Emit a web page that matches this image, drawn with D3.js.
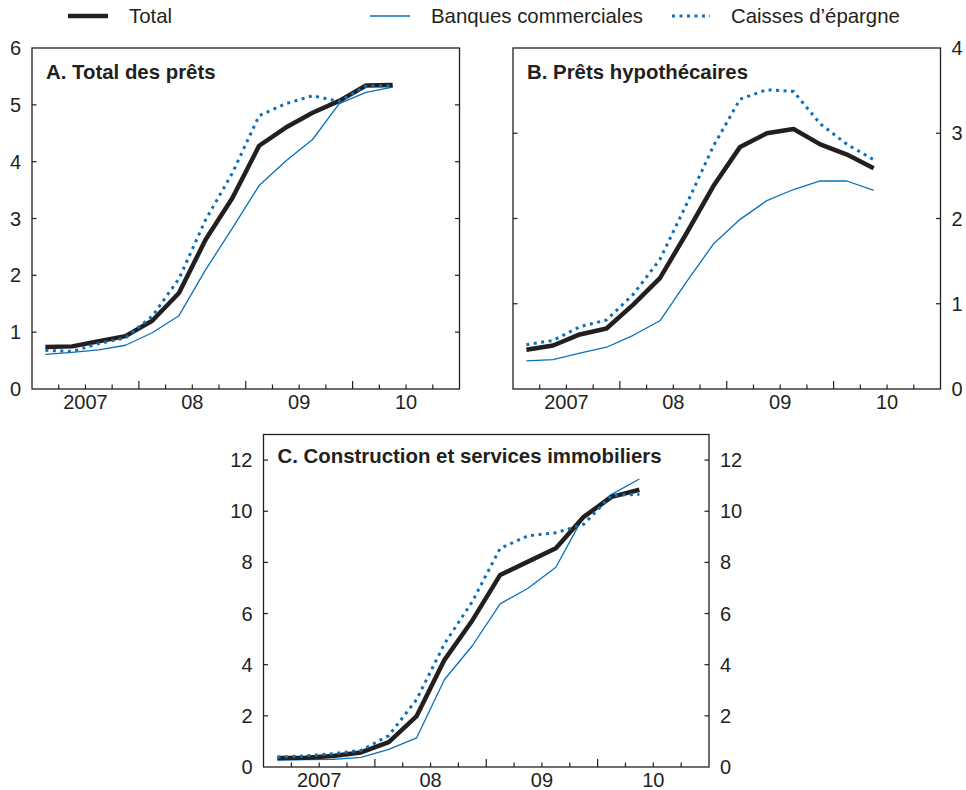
<html lang="fr">

<head>
    <meta charset="UTF-8">
    <script type="text/javascript" src="https://cdn.jsdelivr.net/npm/d3@7"></script>
    <title>Prêts</title>
    <style>
        body { margin: 0; background: #fff; }
        text { font-family: "Liberation Sans", Arial, sans-serif; fill: #231f20; }
    </style>
</head>

<body>
    <script type="text/javascript">

        // quarters, plotted at mid-quarter
        var quarters = ["2007T1", "2007T2", "2007T3", "2007T4", "2008T1", "2008T2", "2008T3",
            "2008T4", "2009T1", "2009T2", "2009T3", "2009T4", "2010T1", "2010T2"];
        var yearLabels = ["2007", "08", "09", "10"];

        // A. Total des prêts
        var totalA = [0.74, 0.75, 0.84, 0.93, 1.20, 1.69, 2.63, 3.36, 4.28, 4.60, 4.86, 5.07, 5.34, 5.35];
        var banquesA = [0.61, 0.645, 0.69, 0.77, 0.99, 1.29, 2.10, 2.83, 3.58, 4.01, 4.39, 5.02, 5.22, 5.31];
        var caissesA = [0.68, 0.66, 0.80, 0.90, 1.28, 1.94, 2.98, 3.80, 4.81, 5.02, 5.16, 5.06, 5.33, 5.33];

        // B. Prêts hypothécaires
        var totalB = [0.46, 0.51, 0.64, 0.71, 0.99, 1.30, 1.83, 2.38, 2.84, 3.00, 3.05, 2.87, 2.75, 2.59];
        var banquesB = [0.33, 0.345, 0.42, 0.49, 0.63, 0.80, 1.26, 1.70, 1.99, 2.21, 2.34, 2.44, 2.44, 2.33];
        var caissesB = [0.52, 0.57, 0.73, 0.81, 1.11, 1.52, 2.17, 2.85, 3.40, 3.51, 3.49, 3.11, 2.87, 2.69];

        // C. Construction et services immobiliers
        var totalC = [0.35, 0.36, 0.43, 0.57, 0.97, 1.99, 4.19, 5.73, 7.51, 8.03, 8.55, 9.78, 10.56, 10.84];
        var banquesC = [0.27, 0.29, 0.30, 0.38, 0.69, 1.14, 3.42, 4.74, 6.38, 6.99, 7.81, 9.81, 10.66, 11.26];
        var caissesC = [0.39, 0.43, 0.52, 0.65, 1.23, 2.64, 4.82, 6.47, 8.55, 9.04, 9.16, 9.49, 10.62, 10.66];

        var blue = "#0a70b8";
        var ink = "#231f20";

        var w = 966;
        var h = 790;

        var svg = d3.select("body")
            .append("svg")
            .attr("width", w)
            .attr("height", h);

        function quarterTime(q) {
            var year = +q.slice(0, 4);
            var n = +q.slice(5);
            return year + (n - 0.5) / 4;
        }

        // legend
        var legend = [
            { name: "Total", x: 68, len: 40, width: 4.5, color: ink, dash: null },
            { name: "Banques commerciales", x: 370, len: 40, width: 1.3, color: blue, dash: null },
            { name: "Caisses d\u2019épargne", x: 672, len: 38, width: 3, color: blue, dash: "3,4.5" }
        ];
        legend.forEach(function (d) {
            svg.append("line")
                .attr("x1", d.x).attr("x2", d.x + d.len)
                .attr("y1", 16).attr("y2", 16)
                .attr("stroke", d.color)
                .attr("stroke-width", d.width)
                .attr("stroke-dasharray", d.dash);
            svg.append("text")
                .attr("x", d.x + d.len + 21)
                .attr("y", 16)
                .attr("dy", "0.35em")
                .attr("font-size", "20.4px")
                .text(d.name);
        });

        function panel(p) {
            var xScale = d3.scaleLinear()
                .domain([2007, 2011])
                .range([p.left, p.right]);
            var yScale = d3.scaleLinear()
                .domain([0, p.ymax])
                .range([p.bottom, p.top]);

            var g = svg.append("g");

            // x ticks: quarters (short) and years (long), pointing inward
            var qTicks = d3.range(2007.25, 2011, 0.25);
            g.selectAll(".xt")
                .data(qTicks)
                .enter()
                .append("line")
                .attr("x1", function (d) { return xScale(d); })
                .attr("x2", function (d) { return xScale(d); })
                .attr("y1", p.bottom)
                .attr("y2", function (d) { return p.bottom - (d % 1 === 0 ? 8 : 4.5); })
                .attr("stroke", ink)
                .attr("stroke-width", 1.2);

            g.selectAll(".xl")
                .data(yearLabels)
                .enter()
                .append("text")
                .attr("x", function (d, i) { return xScale(2007.5 + i); })
                .attr("y", p.bottom + 20)
                .attr("text-anchor", "middle")
                .attr("font-size", "20px")
                .text(function (d) { return d; });

            // y ticks on both sides, labels where asked
            var yTicks = yScale.ticks(p.ymax / p.step).filter(function (d) {
                return d % p.step === 0;
            });
            var inner = yTicks.filter(function (d) { return d > 0 && d < p.ymax; });
            ["left", "right"].forEach(function (side) {
                var x0 = side === "left" ? p.left : p.right;
                var dir = side === "left" ? 1 : -1;
                g.selectAll(".yt-" + side)
                    .data(inner)
                    .enter()
                    .append("line")
                    .attr("x1", x0)
                    .attr("x2", x0 + dir * 4.5)
                    .attr("y1", function (d) { return yScale(d); })
                    .attr("y2", function (d) { return yScale(d); })
                    .attr("stroke", ink)
                    .attr("stroke-width", 1.2);
            });
            p.labels.forEach(function (side) {
                g.selectAll(".yl-" + side)
                    .data(yTicks)
                    .enter()
                    .append("text")
                    .attr("x", side === "left" ? p.left - 11 : p.right + 11)
                    .attr("y", function (d) { return yScale(d); })
                    .attr("dy", "0.35em")
                    .attr("text-anchor", side === "left" ? "end" : "start")
                    .attr("font-size", "20px")
                    .text(function (d) { return d; });
            });

            var line = d3.line()
                .x(function (d, i) { return xScale(quarterTime(quarters[i])); })
                .y(function (d) { return yScale(d); });

            g.append("path")
                .attr("d", line(p.banques))
                .attr("fill", "none")
                .attr("stroke", blue)
                .attr("stroke-width", 1.3)
                .attr("stroke-linejoin", "round");

            g.append("path")
                .attr("d", line(p.total))
                .attr("fill", "none")
                .attr("stroke", ink)
                .attr("stroke-width", 4.5)
                .attr("stroke-linejoin", "round");

            g.append("path")
                .attr("d", line(p.caisses))
                .attr("fill", "none")
                .attr("stroke", blue)
                .attr("stroke-width", 3)
                .attr("stroke-dasharray", "3,4.5");

            // frame
            g.append("rect")
                .attr("x", p.left)
                .attr("y", p.top)
                .attr("width", p.right - p.left)
                .attr("height", p.bottom - p.top)
                .attr("fill", "none")
                .attr("stroke", ink)
                .attr("stroke-width", 1.3);

            g.append("text")
                .attr("x", p.left + 14)
                .attr("y", p.top + p.titleDy)
                .attr("font-size", "20.4px")
                .attr("font-weight", "bold")
                .text(p.title);
        }

        panel({
            title: "A. Total des prêts",
            left: 32, right: 459.5, top: 48, bottom: 389,
            ymax: 6, step: 1, labels: ["left"], titleDy: 31,
            total: totalA, banques: banquesA, caisses: caissesA
        });

        panel({
            title: "B. Prêts hypothécaires",
            left: 513, right: 940.5, top: 48, bottom: 389,
            ymax: 4, step: 1, labels: ["right"], titleDy: 31,
            total: totalB, banques: banquesB, caisses: caissesB
        });

        panel({
            title: "C. Construction et services immobiliers",
            left: 263.5, right: 709, top: 434.5, bottom: 767,
            ymax: 13, step: 2, labels: ["left", "right"], titleDy: 28,
            total: totalC, banques: banquesC, caisses: caissesC
        });
    </script>

</body>

</html>
